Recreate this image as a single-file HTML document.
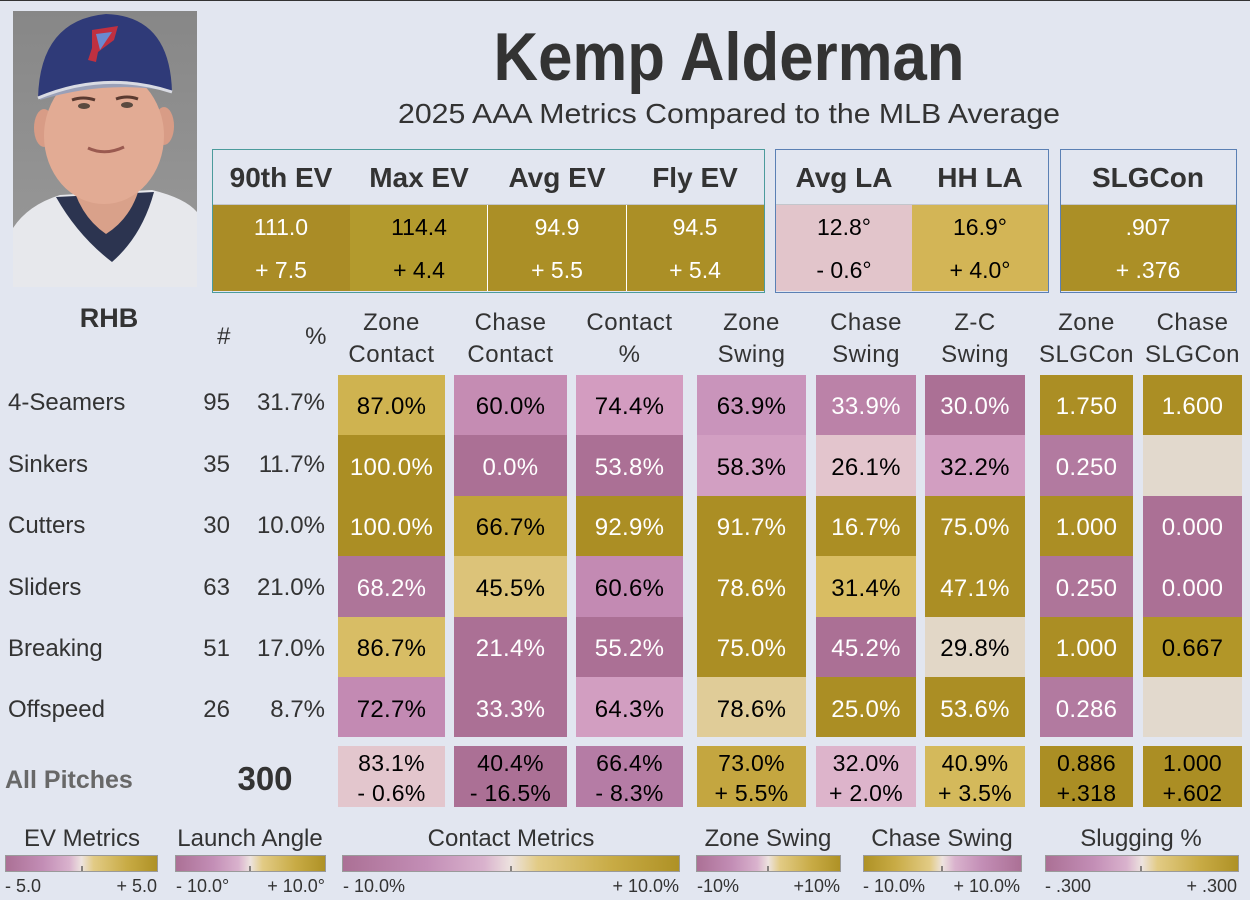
<!DOCTYPE html>
<html><head><meta charset="utf-8"><style>
html,body{margin:0;padding:0;background:#e2e6f0;}
svg{display:block;font-family:"Liberation Sans",sans-serif;}
</style></head><body>
<svg width="1250" height="900" viewBox="0 0 1250 900" xmlns="http://www.w3.org/2000/svg">
<defs>
<linearGradient id="gA" x1="0" x2="1" y1="0" y2="0">
<stop offset="0" stop-color="#ab7095"/><stop offset="0.25" stop-color="#c38eb6"/><stop offset="0.42" stop-color="#d9b2cd"/><stop offset="0.5" stop-color="#ede3df"/><stop offset="0.58" stop-color="#e2cb85"/><stop offset="0.8" stop-color="#c8ab45"/><stop offset="1" stop-color="#ae9125"/>
</linearGradient>
<linearGradient id="gB" x1="0" x2="1" y1="0" y2="0">
<stop offset="0" stop-color="#ae9125"/><stop offset="0.2" stop-color="#c8ab45"/><stop offset="0.42" stop-color="#e2cb85"/><stop offset="0.5" stop-color="#ede3df"/><stop offset="0.58" stop-color="#d9b2cd"/><stop offset="0.75" stop-color="#c38eb6"/><stop offset="1" stop-color="#ab7095"/>
</linearGradient>
<linearGradient id="bgp" x1="0" x2="0" y1="0" y2="1">
<stop offset="0" stop-color="#878787"/><stop offset="1" stop-color="#9a9a9a"/>
</linearGradient>
<clipPath id="ph"><rect x="13" y="11" width="184" height="276"/></clipPath>
</defs>
<rect x="0" y="0" width="1250" height="900" fill="#e2e6f0"/>
<rect x="0" y="0" width="1250" height="1" fill="#333"/>

<!-- Photo -->
<g clip-path="url(#ph)">
<rect x="13" y="11" width="184" height="276" fill="url(#bgp)"/>
<path d="M13,228 Q28,205 60,195 L152,190 Q185,198 197,212 L197,287 L13,287 Z" fill="#e7e8ec"/>
<path d="M56,197 L154,192 Q142,236 112,262 Q78,236 56,197 Z" fill="#2c3450"/>
<path d="M70,175 L142,175 Q136,215 106,234 Q78,215 70,175 Z" fill="#d9a18a"/>
<ellipse cx="44" cy="128" rx="10" ry="19" fill="#d89c86"/>
<ellipse cx="164" cy="126" rx="10" ry="19" fill="#d89c86"/>
<ellipse cx="104" cy="136" rx="60" ry="68" fill="#e2ab94"/>
<path d="M38,98 Q40,20 106,14 Q170,16 172,92 Q105,68 38,98 Z" fill="#2f3a78"/>
<path d="M40,97 Q105,70 170,91 Q105,80 40,100 Z" fill="#9aa0b8"/>
<path d="M38,98 Q105,70 172,92" stroke="#d9dbe3" stroke-width="3" fill="none"/>
<path d="M92,30 L118,26 L114,40 L98,52 L96,62 L88,60 L92,48 Z" fill="#c03040"/>
<path d="M96,34 L112,32 L100,50 Z" fill="#6a8ad0"/>
<path d="M72,100 Q83,96 95,100" stroke="#5a3a30" stroke-width="3" fill="none"/>
<path d="M116,99 Q127,95 138,99" stroke="#5a3a30" stroke-width="3" fill="none"/>
<ellipse cx="84" cy="106" rx="6" ry="3" fill="#5a4a40"/>
<ellipse cx="127" cy="105" rx="6" ry="3" fill="#5a4a40"/>
<path d="M88,148 Q105,156 124,147" stroke="#9a5a50" stroke-width="3" fill="none"/>
</g>

<!-- Title -->
<text x="729" y="80" text-anchor="middle" font-size="68" font-weight="bold" fill="#333" textLength="471" lengthAdjust="spacingAndGlyphs">Kemp Alderman</text>
<text x="729" y="123" text-anchor="middle" font-size="28" fill="#333" textLength="662" lengthAdjust="spacingAndGlyphs">2025 AAA Metrics Compared to the MLB Average</text>

<!-- Box 1 -->
<rect x="213" y="205" width="137" height="86" fill="#aa8c26"/>
<rect x="350" y="205" width="137" height="86" fill="#b39a2d"/>
<rect x="487" y="205" width="139" height="86" fill="#ab8f26"/>
<rect x="626" y="205" width="138" height="86" fill="#ab8f26"/>
<rect x="487" y="205" width="1" height="86" fill="#ffffff"/>
<rect x="626" y="205" width="1" height="86" fill="#ffffff"/>
<line x1="213" y1="204.5" x2="764" y2="204.5" stroke="#c3c6cc" stroke-width="1"/>
<rect x="212.5" y="149.5" width="552" height="143" fill="none" stroke="#4b9b9c" stroke-width="1"/>
<g font-size="28" font-weight="bold" fill="#333" text-anchor="middle">
<text x="281" y="187">90th EV</text>
<text x="419" y="187">Max EV</text>
<text x="557" y="187">Avg EV</text>
<text x="695" y="187">Fly EV</text>
<text x="844" y="187">Avg LA</text>
<text x="980" y="187">HH LA</text>
<text x="1148" y="187">SLGCon</text>
</g>
<g font-size="23" text-anchor="middle">
<text x="281" y="235" fill="#fff">111.0</text>
<text x="281" y="278" fill="#fff">+ 7.5</text>
<text x="419" y="235" fill="#000">114.4</text>
<text x="419" y="278" fill="#000">+ 4.4</text>
<text x="557" y="235" fill="#fff">94.9</text>
<text x="557" y="278" fill="#fff">+ 5.5</text>
<text x="695" y="235" fill="#fff">94.5</text>
<text x="695" y="278" fill="#fff">+ 5.4</text>
</g>

<!-- Box 2 -->
<rect x="776" y="205" width="136" height="86" fill="#e2c5cb"/>
<rect x="912" y="205" width="136" height="86" fill="#d3b556"/>
<line x1="776" y1="204.5" x2="1048" y2="204.5" stroke="#c3c6cc" stroke-width="1"/>
<rect x="775.5" y="149.5" width="273" height="143" fill="none" stroke="#5b80b4" stroke-width="1"/>
<!-- Box 3 -->
<rect x="1061" y="205" width="175" height="86" fill="#ab8f26"/>
<line x1="1061" y1="204.5" x2="1236" y2="204.5" stroke="#c3c6cc" stroke-width="1"/>
<rect x="1060.5" y="149.5" width="176" height="143" fill="none" stroke="#5b80b4" stroke-width="1"/>
<g font-size="23" text-anchor="middle">
<text x="844" y="235" fill="#000">12.8°</text>
<text x="844" y="278" fill="#000">- 0.6°</text>
<text x="980" y="235" fill="#000">16.9°</text>
<text x="980" y="278" fill="#000">+ 4.0°</text>
<text x="1148" y="235" fill="#fff">.907</text>
<text x="1148" y="278" fill="#fff">+ .376</text>
</g>

<!-- Table headers -->
<text x="109" y="327" text-anchor="middle" font-size="27" font-weight="bold" fill="#333">RHB</text>
<g font-size="24" fill="#333" text-anchor="middle" letter-spacing="0.5">
<text x="224" y="344">#</text>
<text x="316" y="344">%</text>
<text x="391.5" y="330">Zone</text><text x="391.5" y="362">Contact</text>
<text x="510.5" y="330">Chase</text><text x="510.5" y="362">Contact</text>
<text x="629.5" y="330">Contact</text><text x="629.5" y="362">%</text>
<text x="751.5" y="330">Zone</text><text x="751.5" y="362">Swing</text>
<text x="866" y="330">Chase</text><text x="866" y="362">Swing</text>
<text x="975" y="330">Z-C</text><text x="975" y="362">Swing</text>
<text x="1086.5" y="330">Zone</text><text x="1086.5" y="362">SLGCon</text>
<text x="1192.5" y="330">Chase</text><text x="1192.5" y="362">SLGCon</text>
</g>

<!-- Row labels -->
<g font-size="24" fill="#333">
<text x="8" y="410">4-Seamers</text>
<text x="8" y="472">Sinkers</text>
<text x="8" y="533">Cutters</text>
<text x="8" y="595">Sliders</text>
<text x="8" y="656">Breaking</text>
<text x="8" y="717">Offspeed</text>
</g>
<g font-size="24" fill="#333" text-anchor="end">
<text x="230" y="410">95</text><text x="325" y="410">31.7%</text>
<text x="230" y="472">35</text><text x="325" y="472">11.7%</text>
<text x="230" y="533">30</text><text x="325" y="533">10.0%</text>
<text x="230" y="595">63</text><text x="325" y="595">21.0%</text>
<text x="230" y="656">51</text><text x="325" y="656">17.0%</text>
<text x="230" y="717">26</text><text x="325" y="717">8.7%</text>
</g>

<!-- Cells -->
<rect x="338" y="375" width="107" height="60" fill="#cfb350"/>
<rect x="338" y="435" width="107" height="61" fill="#ab8e24"/>
<rect x="338" y="496" width="107" height="60" fill="#ab8e24"/>
<rect x="338" y="556" width="107" height="61" fill="#ae7599"/>
<rect x="338" y="617" width="107" height="60" fill="#d8bd65"/>
<rect x="338" y="677" width="107" height="60" fill="#c38ab3"/>
<rect x="454" y="375" width="113" height="60" fill="#c58cb3"/>
<rect x="454" y="435" width="113" height="61" fill="#ab7095"/>
<rect x="454" y="496" width="113" height="60" fill="#c1a33a"/>
<rect x="454" y="556" width="113" height="61" fill="#dcc379"/>
<rect x="454" y="617" width="113" height="60" fill="#ab7095"/>
<rect x="454" y="677" width="113" height="60" fill="#ab7095"/>
<rect x="576" y="375" width="107" height="60" fill="#d39cc0"/>
<rect x="576" y="435" width="107" height="61" fill="#ab7095"/>
<rect x="576" y="496" width="107" height="60" fill="#ab8e24"/>
<rect x="576" y="556" width="107" height="61" fill="#c38ab3"/>
<rect x="576" y="617" width="107" height="60" fill="#ab7095"/>
<rect x="576" y="677" width="107" height="60" fill="#d29ec1"/>
<rect x="697" y="375" width="109" height="60" fill="#c994bb"/>
<rect x="697" y="435" width="109" height="61" fill="#d29fc2"/>
<rect x="697" y="496" width="109" height="60" fill="#ab8e24"/>
<rect x="697" y="556" width="109" height="61" fill="#ab8e24"/>
<rect x="697" y="617" width="109" height="60" fill="#ab8e24"/>
<rect x="697" y="677" width="109" height="60" fill="#e0cc98"/>
<rect x="816" y="375" width="100" height="60" fill="#bb82a8"/>
<rect x="816" y="435" width="100" height="61" fill="#e3c5cd"/>
<rect x="816" y="496" width="100" height="60" fill="#ab8e24"/>
<rect x="816" y="556" width="100" height="61" fill="#d9bd63"/>
<rect x="816" y="617" width="100" height="60" fill="#ab7095"/>
<rect x="816" y="677" width="100" height="60" fill="#ab8e24"/>
<rect x="925" y="375" width="100" height="60" fill="#ab7095"/>
<rect x="925" y="435" width="100" height="61" fill="#d29ec1"/>
<rect x="925" y="496" width="100" height="60" fill="#ab8e24"/>
<rect x="925" y="556" width="100" height="61" fill="#ab8e24"/>
<rect x="925" y="617" width="100" height="60" fill="#e2d7c7"/>
<rect x="925" y="677" width="100" height="60" fill="#ab8e24"/>
<rect x="1040" y="375" width="93" height="60" fill="#ab8e24"/>
<rect x="1040" y="435" width="93" height="61" fill="#b27aa0"/>
<rect x="1040" y="496" width="93" height="60" fill="#ab8e24"/>
<rect x="1040" y="556" width="93" height="61" fill="#ae7599"/>
<rect x="1040" y="617" width="93" height="60" fill="#ab8e24"/>
<rect x="1040" y="677" width="93" height="60" fill="#b27aa0"/>
<rect x="1143" y="375" width="99" height="60" fill="#ab8e24"/>
<rect x="1143" y="435" width="99" height="61" fill="#e2d9cd"/>
<rect x="1143" y="496" width="99" height="60" fill="#ab7095"/>
<rect x="1143" y="556" width="99" height="61" fill="#ab7095"/>
<rect x="1143" y="617" width="99" height="60" fill="#b29628"/>
<rect x="1143" y="677" width="99" height="60" fill="#e2d9cd"/>

<g font-size="24" text-anchor="middle" letter-spacing="0.3">
<text x="391.5" y="414" fill="#000">87.0%</text>
<text x="510.5" y="414" fill="#000">60.0%</text>
<text x="629.5" y="414" fill="#000">74.4%</text>
<text x="751.5" y="414" fill="#000">63.9%</text>
<text x="866" y="414" fill="#fff">33.9%</text>
<text x="975" y="414" fill="#fff">30.0%</text>
<text x="1086.5" y="414" fill="#fff">1.750</text>
<text x="1192.5" y="414" fill="#fff">1.600</text>
<text x="391.5" y="475" fill="#fff">100.0%</text>
<text x="510.5" y="475" fill="#fff">0.0%</text>
<text x="629.5" y="475" fill="#fff">53.8%</text>
<text x="751.5" y="475" fill="#000">58.3%</text>
<text x="866" y="475" fill="#000">26.1%</text>
<text x="975" y="475" fill="#000">32.2%</text>
<text x="1086.5" y="475" fill="#fff">0.250</text>
<text x="391.5" y="535" fill="#fff">100.0%</text>
<text x="510.5" y="535" fill="#000">66.7%</text>
<text x="629.5" y="535" fill="#fff">92.9%</text>
<text x="751.5" y="535" fill="#fff">91.7%</text>
<text x="866" y="535" fill="#fff">16.7%</text>
<text x="975" y="535" fill="#fff">75.0%</text>
<text x="1086.5" y="535" fill="#fff">1.000</text>
<text x="1192.5" y="535" fill="#fff">0.000</text>
<text x="391.5" y="596" fill="#fff">68.2%</text>
<text x="510.5" y="596" fill="#000">45.5%</text>
<text x="629.5" y="596" fill="#000">60.6%</text>
<text x="751.5" y="596" fill="#fff">78.6%</text>
<text x="866" y="596" fill="#000">31.4%</text>
<text x="975" y="596" fill="#fff">47.1%</text>
<text x="1086.5" y="596" fill="#fff">0.250</text>
<text x="1192.5" y="596" fill="#fff">0.000</text>
<text x="391.5" y="656" fill="#000">86.7%</text>
<text x="510.5" y="656" fill="#fff">21.4%</text>
<text x="629.5" y="656" fill="#fff">55.2%</text>
<text x="751.5" y="656" fill="#fff">75.0%</text>
<text x="866" y="656" fill="#fff">45.2%</text>
<text x="975" y="656" fill="#000">29.8%</text>
<text x="1086.5" y="656" fill="#fff">1.000</text>
<text x="1192.5" y="656" fill="#000">0.667</text>
<text x="391.5" y="717" fill="#000">72.7%</text>
<text x="510.5" y="717" fill="#fff">33.3%</text>
<text x="629.5" y="717" fill="#000">64.3%</text>
<text x="751.5" y="717" fill="#000">78.6%</text>
<text x="866" y="717" fill="#fff">25.0%</text>
<text x="975" y="717" fill="#fff">53.6%</text>
<text x="1086.5" y="717" fill="#fff">0.286</text>
</g>

<!-- All pitches row -->
<text x="5" y="788" font-size="25" font-weight="bold" fill="#686868">All Pitches</text>
<text x="265" y="790" text-anchor="middle" font-size="33" font-weight="bold" fill="#333">300</text>
<rect x="338" y="746" width="107" height="61" fill="#e3c6cd"/>
<rect x="454" y="746" width="113" height="61" fill="#ab7095"/>
<rect x="576" y="746" width="107" height="61" fill="#b57ca5"/>
<rect x="697" y="746" width="109" height="61" fill="#c4a640"/>
<rect x="816" y="746" width="100" height="61" fill="#ddb4cb"/>
<rect x="925" y="746" width="100" height="61" fill="#d4b95b"/>
<rect x="1040" y="746" width="93" height="61" fill="#ab8e24"/>
<rect x="1143" y="746" width="99" height="61" fill="#ab8e24"/>
<g font-size="23" text-anchor="middle" fill="#000" letter-spacing="0.3">
<text x="391.5" y="771">83.1%</text><text x="391.5" y="801">- 0.6%</text>
<text x="510.5" y="771">40.4%</text><text x="510.5" y="801">- 16.5%</text>
<text x="629.5" y="771">66.4%</text><text x="629.5" y="801">- 8.3%</text>
<text x="751.5" y="771">73.0%</text><text x="751.5" y="801">+ 5.5%</text>
<text x="866" y="771">32.0%</text><text x="866" y="801">+ 2.0%</text>
<text x="975" y="771">40.9%</text><text x="975" y="801">+ 3.5%</text>
<text x="1086.5" y="771">0.886</text><text x="1086.5" y="801">+.318</text>
<text x="1192.5" y="771">1.000</text><text x="1192.5" y="801">+.602</text>
</g>

<!-- Legend -->
<g font-size="24" fill="#333" text-anchor="middle">
<text x="82" y="846">EV Metrics</text>
<text x="250" y="846">Launch Angle</text>
<text x="511" y="846">Contact Metrics</text>
<text x="768" y="846">Zone Swing</text>
<text x="942" y="846">Chase Swing</text>
<text x="1141" y="846">Slugging %</text>
</g>
<g stroke="#9a9a9a" stroke-width="1">
<rect x="5.5" y="855.5" width="152" height="16" fill="url(#gA)"/>
<rect x="175.5" y="855.5" width="150" height="16" fill="url(#gA)"/>
<rect x="342.5" y="855.5" width="337" height="16" fill="url(#gA)"/>
<rect x="696.5" y="855.5" width="144" height="16" fill="url(#gA)"/>
<rect x="863.5" y="855.5" width="158" height="16" fill="url(#gB)"/>
<rect x="1045.5" y="855.5" width="193" height="16" fill="url(#gA)"/>
</g>
<g stroke="#222" stroke-width="1">
<line x1="82" y1="866" x2="82" y2="871"/>
<line x1="250" y1="866" x2="250" y2="871"/>
<line x1="511" y1="866" x2="511" y2="871"/>
<line x1="768" y1="866" x2="768" y2="871"/>
<line x1="942" y1="866" x2="942" y2="871"/>
<line x1="1141" y1="866" x2="1141" y2="871"/>
</g>
<g font-size="18" fill="#333">
<text x="5" y="892">- 5.0</text>
<text x="157" y="892" text-anchor="end">+ 5.0</text>
<text x="176" y="892">- 10.0°</text>
<text x="325" y="892" text-anchor="end">+ 10.0°</text>
<text x="343" y="892">- 10.0%</text>
<text x="679" y="892" text-anchor="end">+ 10.0%</text>
<text x="697" y="892">-10%</text>
<text x="840" y="892" text-anchor="end">+10%</text>
<text x="863" y="892">- 10.0%</text>
<text x="1020" y="892" text-anchor="end">+ 10.0%</text>
<text x="1045" y="892">- .300</text>
<text x="1237" y="892" text-anchor="end">+ .300</text>
</g>
</svg>
</body></html>
